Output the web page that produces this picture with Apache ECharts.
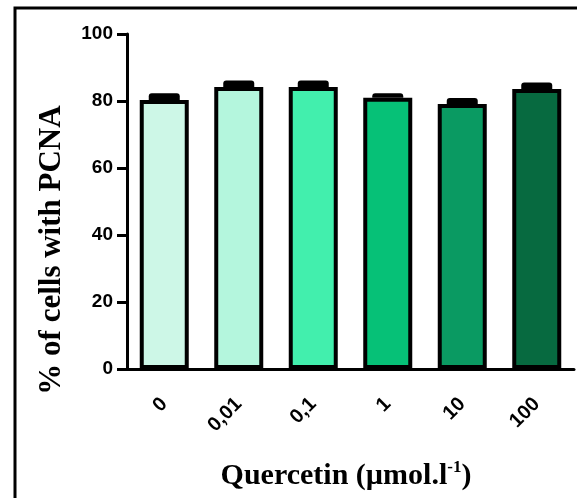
<!DOCTYPE html>
<html>
<head>
<meta charset="utf-8">
<script src="https://cdn.jsdelivr.net/npm/echarts@6/dist/echarts.min.js"></script>
<style>html,body{margin:0;padding:0;background:#fff}#c{width:577px;height:498px}</style>
</head>
<body>
<div id="c"></div>
<script>
var categories = ['0', '0,01', '0,1', '1', '10', '100'];
var values = [80.3, 84.2, 84.2, 81.0, 79.1, 83.6];
var errorTops = [82.3, 86.1, 86.1, 82.3, 80.9, 85.5];
var barColors = ['#cdf7e7', '#b4f6dd', '#42efad', '#06c177', '#0a9a62', '#076a40'];
var yTicks = [0, 20, 40, 60, 80, 100];

var chart = echarts.init(document.getElementById('c'), null, {renderer: 'canvas'});
var sans = "'Liberation Sans', Arial, sans-serif";
var serif = "'Liberation Serif', 'Times New Roman', serif";

chart.setOption({
  animation: false,
  backgroundColor: '#fff',
  grid: {left: 127, right: 3, top: 34, bottom: 129, containLabel: false},
  xAxis: {
    type: 'category',
    data: categories,
    axisLine: {lineStyle: {color: '#000', width: 3}},
    axisTick: {alignWithLabel: true, length: 11, lineStyle: {color: '#000', width: 3}},
    axisLabel: {rotate: 45, margin: 32, color: '#000', fontSize: 20, fontWeight: 'bold', fontFamily: sans}
  },
  yAxis: {
    type: 'value',
    min: 0, max: 100, interval: 20,
    axisLine: {show: true, lineStyle: {color: '#000', width: 3}},
    axisTick: {show: true, length: 10, lineStyle: {color: '#000', width: 3}},
    splitLine: {show: false},
    axisLabel: {margin: 14, color: '#000', fontSize: 19, fontWeight: 'bold', fontFamily: sans,
      formatter: function (v) { return yTicks.indexOf(v) >= 0 ? String(v) : ''; }}
  },
  series: [
    {
      type: 'bar',
      barWidth: 49,
      data: values.map(function (v, i) {
        return {value: v, itemStyle: {color: barColors[i]}};
      }),
      itemStyle: {borderColor: '#000', borderWidth: 4},
      z: 2
    },
    {
      type: 'custom',
      z: 3,
      data: values.map(function (v, i) { return [i, v, errorTops[i]]; }),
      renderItem: function (params, api) {
        var p0 = api.coord([api.value(0), api.value(1)]);
        var p1 = api.coord([api.value(0), api.value(2)]);
        var w = 31;
        return {
          type: 'rect',
          shape: {x: p0[0] - w / 2, y: p1[1], width: w, height: p0[1] - p1[1], r: [3, 3, 0, 0]},
          style: {fill: '#000'}
        };
      }
    }
  ],
  graphic: [
    {
      type: 'rect',
      shape: {x: 15, y: 8, width: 700, height: 700},
      style: {fill: 'none', stroke: '#000', lineWidth: 3},
      silent: true
    },
    {
      type: 'text',
      x: 52, y: 250,
      rotation: Math.PI / 2,
      style: {
        text: '% of cells with PCNA',
        fontSize: 31, fontWeight: 'bold', fontFamily: serif, fill: '#000',
        textAlign: 'center', textVerticalAlign: 'middle'
      }
    },
    {
      type: 'text',
      x: 346, y: 476,
      style: {
        text: '{a|Quercetin (µmol.l}{s|-1}{a|)}',
        textAlign: 'center', textVerticalAlign: 'middle',
        rich: {
          a: {fontSize: 30, fontWeight: 'bold', fontFamily: serif, fill: '#000', color: '#000'},
          s: {fontSize: 17, fontWeight: 'bold', fontFamily: serif, fill: '#000', color: '#000', verticalAlign: 'top', lineHeight: 34}
        }
      }
    }
  ]
});
</script>
</body>
</html>
